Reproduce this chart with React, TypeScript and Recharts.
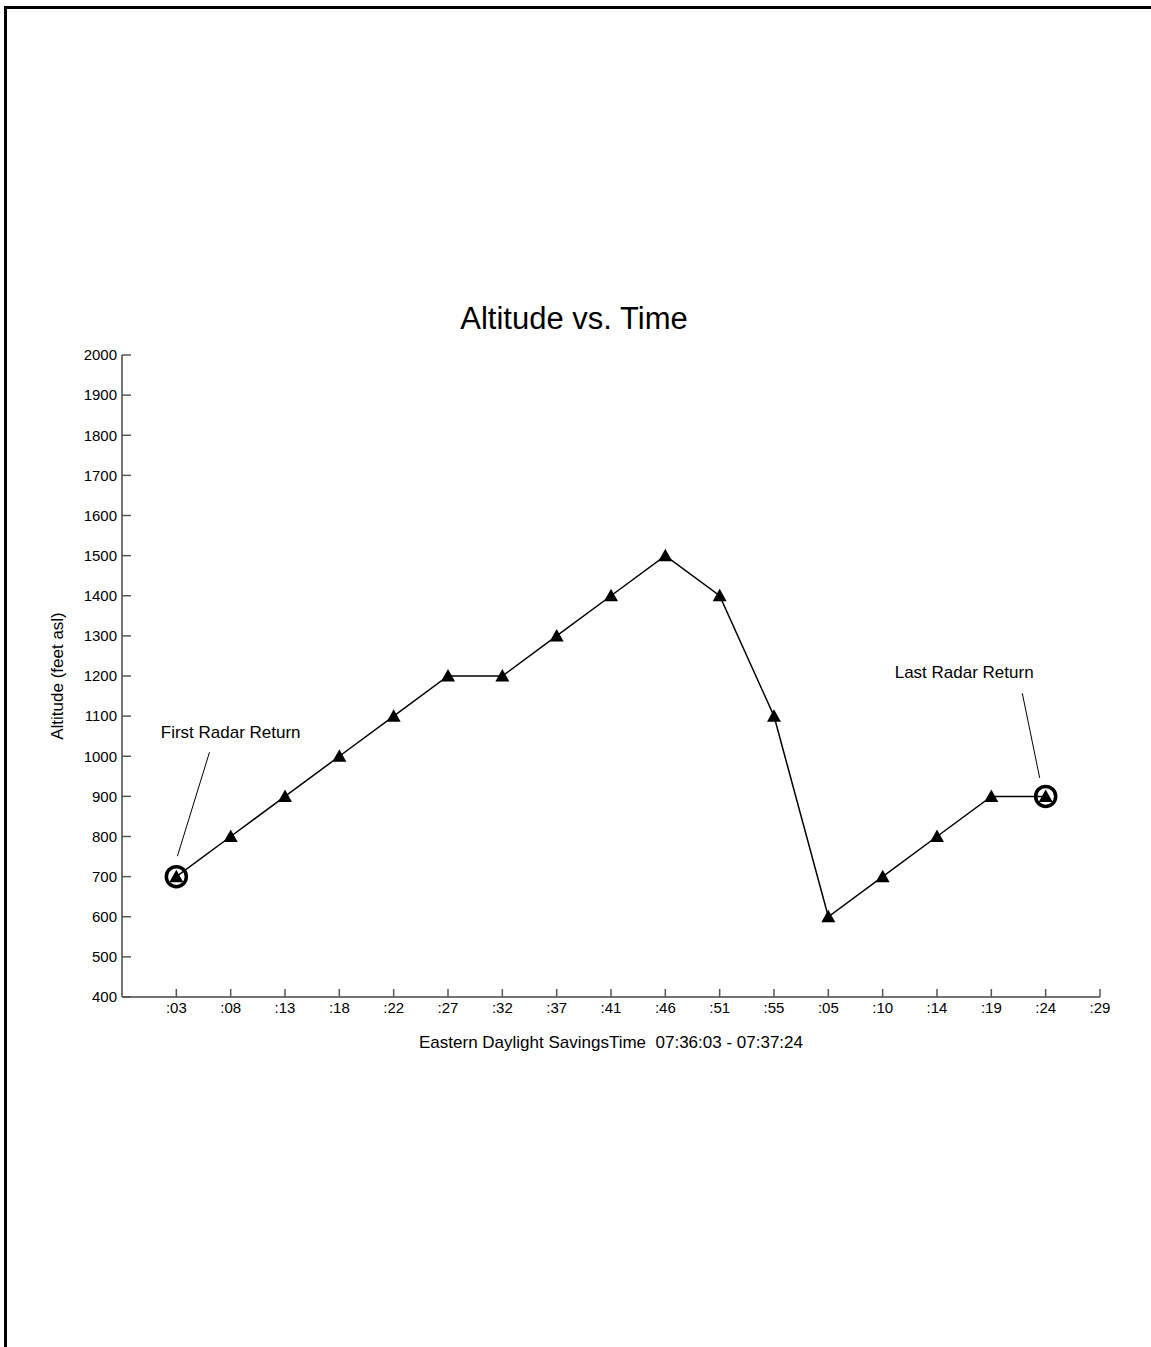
import React from 'react';
import { LineChart, Line, XAxis, YAxis, ReferenceDot, ReferenceLine } from 'recharts';

// tick labels along the time axis (seconds past the minute)
const timeLabels = [':03', ':08', ':13', ':18', ':22', ':27', ':32', ':37', ':41', ':46', ':51', ':55', ':05', ':10', ':14', ':19', ':24', ':29'];
// altitude (feet asl) for each radar return
const altitudes = [700, 800, 900, 1000, 1100, 1200, 1200, 1300, 1400, 1500, 1400, 1100, 600, 700, 800, 900, 900];
const altTicks = [400, 500, 600, 700, 800, 900, 1000, 1100, 1200, 1300, 1400, 1500, 1600, 1700, 1800, 1900, 2000];
const xTicks = timeLabels.map((_, i) => i + 1);

const data = altitudes.map((alt, i) => ({ i: i + 1, alt }));

const FONT = '"Liberation Sans", Arial, sans-serif';

const Triangle = (props: any) => {
  const { cx, cy, index } = props;
  if (cx == null || cy == null) return null;
  return <path key={index} d={`M${cx},${cy - 7} L${cx + 7},${cy + 5.5} L${cx - 7},${cy + 5.5} Z`} fill="#000" />;
};

export default function App() {
  return (
    <div style={{ position: 'absolute', left: 0, top: 0, width: 1151, height: 1347, background: '#fff', overflow: 'hidden', fontFamily: FONT }}>
      <div style={{ position: 'absolute', left: 4, top: 6, width: 1200, height: 1400, borderTop: '3px solid #000', borderLeft: '3px solid #000' }} />
      <div style={{ position: 'absolute', left: 0, width: 1148, top: 301, textAlign: 'center', fontSize: 31, color: '#000' }}>
        Altitude vs. Time
      </div>
      <LineChart width={1151} height={1347} data={data} margin={{ top: 355, right: 51, left: 42, bottom: 290 }}>
        <XAxis
          type="number"
          dataKey="i"
          domain={[0, 18]}
          ticks={xTicks}
          tickFormatter={(v: number) => timeLabels[v - 1]}
          interval={0}
          height={60}
          tickSize={-8}
          tickMargin={13}
          axisLine={{ stroke: '#444', strokeWidth: 1.5 }}
          tickLine={{ stroke: '#555', strokeWidth: 1.5 }}
          tick={{ fill: '#000', fontSize: 15, fontFamily: FONT }}
          label={{ value: 'Eastern Daylight SavingsTime \u00A007:36:03 - 07:37:24', position: 'insideBottom', offset: 9, fill: '#000', fontSize: 17, fontFamily: FONT }}
        />
        <YAxis
          type="number"
          domain={[400, 2000]}
          ticks={altTicks}
          interval={0}
          width={80}
          tickSize={-9}
          tickMargin={14}
          axisLine={{ stroke: '#444', strokeWidth: 1.5 }}
          tickLine={{ stroke: '#555', strokeWidth: 1.5 }}
          tick={{ fill: '#000', fontSize: 15, fontFamily: FONT }}
          label={{ value: 'Altitude (feet asl)', angle: -90, position: 'insideLeft', offset: 15, fill: '#000', fontSize: 17, fontFamily: FONT, style: { textAnchor: 'middle' } }}
        />
        <Line
          type="linear"
          dataKey="alt"
          stroke="#000"
          strokeWidth={1.5}
          dot={Triangle}
          activeDot={false}
          isAnimationActive={false}
        />
        <ReferenceDot x={1} y={700} r={10} fill="none" stroke="#000" strokeWidth={3.5} />
        <ReferenceDot x={17} y={900} r={10} fill="none" stroke="#000" strokeWidth={3.5} />
        <ReferenceLine segment={[{ x: 1.61, y: 1010 }, { x: 1.02, y: 751 }]} stroke="#000" strokeWidth={1} />
        <ReferenceLine segment={[{ x: 16.57, y: 1157 }, { x: 16.89, y: 946 }]} stroke="#000" strokeWidth={1} />
        <ReferenceDot x={2} y={1060} r={0} fill="none" stroke="none"
          label={{ value: 'First Radar Return', position: 'center', fill: '#000', fontSize: 17, fontFamily: FONT }} />
        <ReferenceDot x={15.5} y={1210} r={0} fill="none" stroke="none"
          label={{ value: 'Last Radar Return', position: 'center', fill: '#000', fontSize: 17, fontFamily: FONT }} />
      </LineChart>
    </div>
  );
}
